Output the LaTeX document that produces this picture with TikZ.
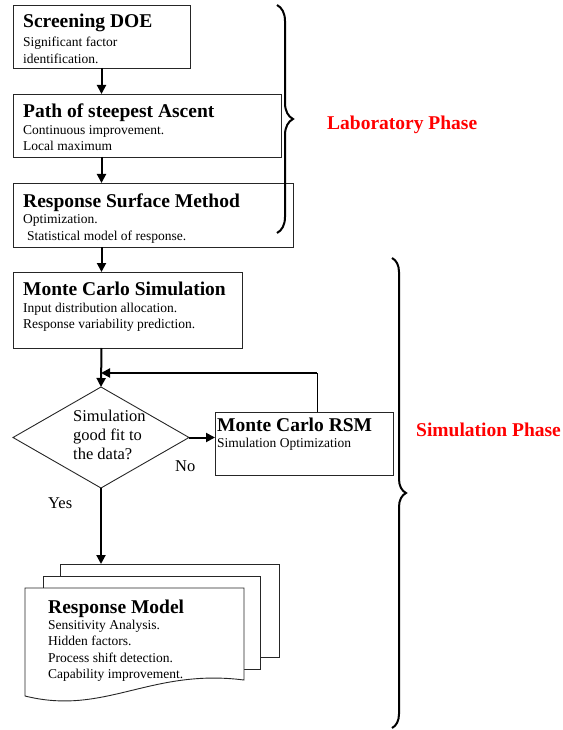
\documentclass[tikz,border=0pt]{standalone}
\usepackage{fontspec}
\setmainfont{Liberation Serif}
\usetikzlibrary{arrows.meta,shapes.geometric,decorations.pathreplacing}
\begin{document}
\begin{tikzpicture}[x=1pt,y=-1pt,
  box/.style={draw=black!85,line width=0.9pt,fill=white,anchor=north west,inner sep=0pt,outer sep=0pt},
  hd/.style={anchor=base west,inner sep=0pt,font=\fontsize{19.5}{22}\selectfont\bfseries},
  bd/.style={anchor=base west,inner sep=0pt,font=\fontsize{13.5}{16}\selectfont},
  dt/.style={anchor=base west,inner sep=0pt,font=\fontsize{16.5}{19}\selectfont},
  ph/.style={anchor=base west,inner sep=0pt,text=red,font=\fontsize{19.5}{22}\selectfont\bfseries},
  arr/.style={line width=2pt,-{Triangle[length=9pt,width=9pt]}},
  doc/.style={draw=black!85,line width=0.9pt,fill=white},
  brc/.style={line width=2pt,decorate}]
\useasboundingbox (0,0) rectangle (562,730);

% boxes
\node[box,minimum width=177pt,minimum height=63pt] (b1) at (13,5) {};
\node[box,minimum width=268pt,minimum height=63pt] (b2) at (13,94) {};
\node[box,minimum width=280pt,minimum height=64pt] (b3) at (13,183) {};
\node[box,minimum width=229pt,minimum height=76pt] (b4) at (13,272) {};
\node[box,minimum width=178pt,minimum height=63pt] (rsm) at (215,412) {};
\node[draw=black!85,line width=0.9pt,diamond,aspect=1.74,minimum width=176pt,minimum height=101pt,inner sep=0pt,outer sep=0pt] (dia) at (101,437.5) {};

% texts
\node[hd] (t1) at (23,28) {Screening DOE};
\node[bd] (t1a) at (23,47) {Significant factor};
\node[bd] (t1b) at (23,64) {identification.};
\node[hd] (t2) at (23,118) {Path of steepest Ascent};
\node[bd] (t2a) at (23,135) {Continuous improvement.};
\node[bd] (t2b) at (23,151) {Local maximum};
\node[hd] (t3) at (23,207) {Response Surface Method};
\node[bd] (t3a) at (23,223) {Optimization.};
\node[bd] (t3b) at (27,240) {Statistical model of response.};
\node[hd] (t4) at (23,295) {Monte Carlo Simulation};
\node[bd] (t4a) at (23,312) {Input distribution allocation.};
\node[bd] (t4b) at (23,328) {Response variability prediction.};
\node[hd] (t5) at (217,431) {Monte Carlo RSM};
\node[bd] (t5a) at (217,447) {Simulation Optimization};
\node[dt] (d1) at (73,421) {Simulation};
\node[dt] (d2) at (73,440) {good fit to};
\node[dt] (d3) at (73,459) {the data?};
\node[dt] (no) at (175,471) {No};
\node[dt] (yes) at (48,508) {Yes};

% multi-document
\draw[doc] (60,564) -- (279,564) -- (279,657) -- (260,657);
\draw[doc] (43,576) -- (260,576) -- (260,669) -- (244,669);
\draw[doc] (60,564) -- (60,576);
\draw[doc] (43,576) -- (43,588);
\draw[doc] (25,588) -- (244,588) -- (244,680) .. controls (150,668) and (105,716) .. (25,696) -- cycle;
\coordinate (doctop) at (101,564);
\node[hd] (t6) at (48,613) {Response Model};
\node[bd] (t6a) at (48,629) {Sensitivity Analysis.};
\node[bd] (t6b) at (48,645) {Hidden factors.};
\node[bd] (t6c) at (48,662) {Process shift detection.};
\node[bd] (t6d) at (48,678) {Capability improvement.};

% connectors
\draw[arr] (b1.south) -- (b1.south |- b2.north);
\draw[arr] (b1.south |- b2.south) -- (b1.south |- b3.north);
\draw[arr] (b1.south |- b3.south) -- (b1.south |- b4.north);
\draw[arr] (b1.south |- b4.south) -- (dia.north);
\draw[arr] (dia.east) -- (dia.east -| rsm.west);
\coordinate (fb) at (317,373);
\draw[line width=1pt] (fb |- rsm.north) -- (fb);
\draw[arr] (fb) -- (fb -| dia.north);
\draw[arr] (dia.south) -- (doctop);

% braces and phases
\draw[brc,decoration={brace,amplitude=16pt}] (277,5) -- (277,233);
\draw[brc,decoration={brace,amplitude=14pt}] (392,258) -- (392,728);
\node[ph] (lab) at (327,130) {Laboratory Phase};
\node[ph] (sim) at (416,436) {Simulation Phase};
\end{tikzpicture}
\end{document}
